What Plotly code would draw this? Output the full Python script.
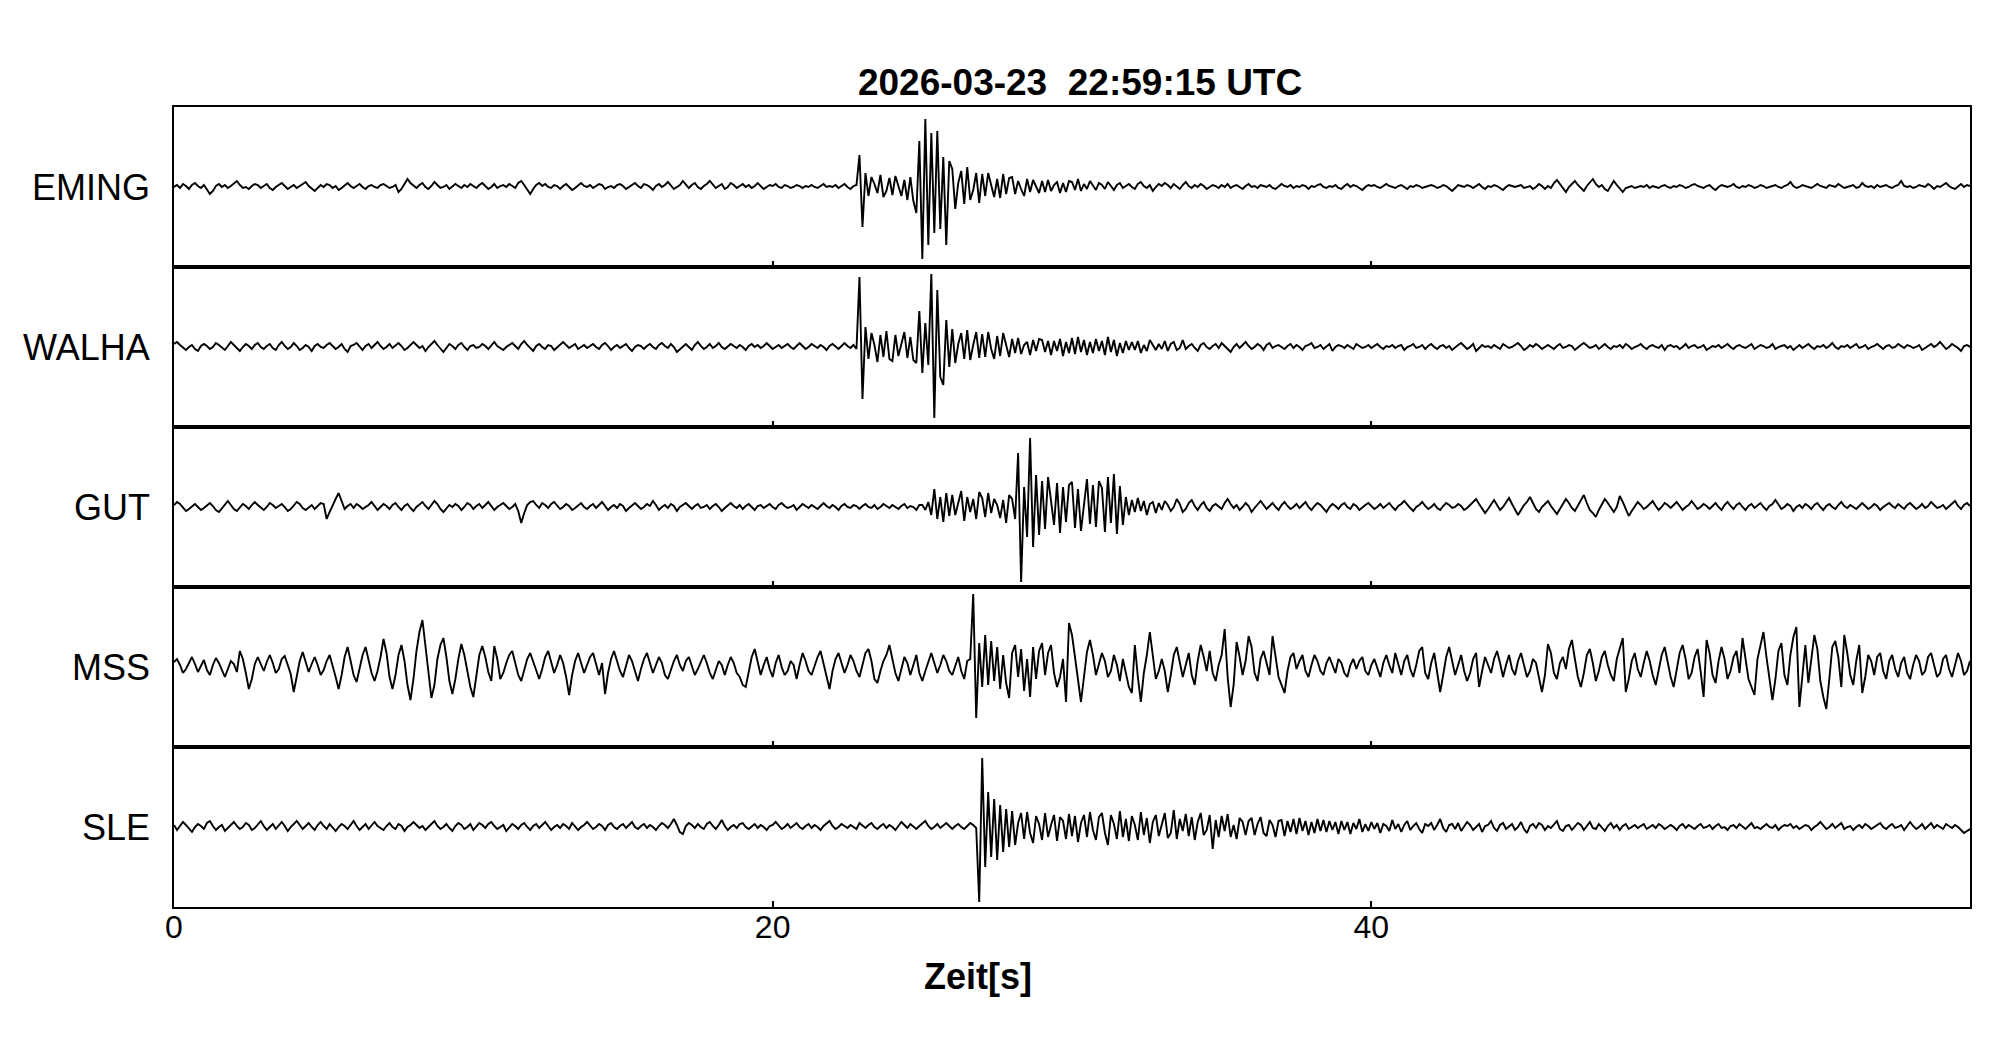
"""
Seismogram section: five stations, vertical component, 60 s window.
"""

import numpy as np
import plotly.graph_objects as go
from plotly.subplots import make_subplots

TITLE = "2026-03-23\u00a0\u00a022:59:15 UTC"
STATIONS = ["EMING", "WALHA", "GUT", "MSS", "SLE"]
X_TICKS = [0, 20, 40]
DT = 0.1  # sample spacing [s]

# Amplitudes (arbitrary units, one row per second)
EMING = [
    0, 2, -1, 3, 1, -2, 2, 4, 1, -1,
    2, -3, -7, -4, 1, 3, 0, 2, -1, 1,
    4, 6, 2, -1, 0, -2, 1, 3, 2, -1,
    1, 3, -1, -3, 0, 2, 4, 1, -2, 0,
    2, -1, 1, 3, 5, 1, -2, -4, -1, 2,
    0, 3, 2, -1, 1, -3, -1, 2, 4, 1,
    -1, 1, 3, 0, -2, 1, 2, 0, -1, 2,
    3, 1, -1, 0, 2, -5, -2, 3, 8, 4,
    1, -1, 2, 4, 0, -2, 1, 5, 2, -1,
    0, 2, -2, 1, 3, 1, -1, 2, 0, 3,
    1, -1, 2, 4, 1, -2, 0, 3, -1, 1,
    2, 0, 3, 1, -1, 4, 6, 2, -3, -7,
    -2, 2, 4, 1, 3, 0, -1, 2, 1, -2,
    1, 3, 0, -3, -1, 2, 4, 1, 0, 2,
    -1, 1, 3, 2, -2, 0, 1, -1, 2, 3,
    1, -2, 0, 2, 4, 1, -1, 3, 2, 0,
    -3, 1, 3, 0, 2, 5, 1, -2, 0, 2,
    6, 3, -1, 2, 4, 0, -2, 1, 3, 6,
    2, -1, 1, 3, -2, 0, 4, 2, -1, 1,
    3, 0, 2, -1, 1, 4, 1, -2, 0, 2,
    1, 3, 0, -1, 2, 1, -1, 0, 2, 1,
    -1, 1, 0, 2, 0, -1, 1, 3, 0, 1,
    0, 2, -1, 1, 3, 0, -2, 1, 2, 32,
    -40, 14, -9, 10, 3, -6, 12, -10, -4, 9,
    -8, 11, 2, -9, 7, -13, 10, -14, -26, 46,
    -72, 68, -58, 54, -46, 56, -42, 30, -58, 26,
    18, -22, 4, 16, -17, 20, -13, -3, 14, -16,
    13, -9, 14, 2, -10, 8, -11, 13, -7, 9,
    10, -7, 6, -2, -9, 8, -5, 7, 1, -6,
    6, -5, 7, -4, 2, 5, -6, 4, -5, 6,
    5, -3, 8, -4, 3, -2, 6, 1, -3, 4,
    2, -2, 5, 1, -3, 2, 4, -1, 1, 3,
    0, -2, 3, 5, 1, -1, 2, -4, 0, 3,
    1, 4, 2, -1, 3, 0, -2, 2, 5, 1,
    -1, 2, 0, 3, 1, -2, 0, 2, 1, -1,
    2, 0, 3, -1, 1, 2, 0, -2, 1, 3,
    0, 1, -1, 2, 1, 0, 2, -1, -2, 1,
    3, 1, 0, 2, -1, 1, 0, 2, 1, -2,
    1, 0, 2, 3, 0, -1, 1, 0, 2, -1,
    -2, 1, 3, 0, 2, 1, -1, -3, 0, 2,
    1, 2, 0, -1, 1, 3, 1, 0, -1, 1,
    2, 0, -2, 1, 0, 2, 1, -1, 0, 1,
    2, 1, -1, 0, 2, 1, -2, -4, -1, 2,
    1, 0, 2, 1, -1, 1, 3, 0, -2, 1,
    0, 2, 1, -1, -3, 0, 2, 1, 0, 1,
    2, -1, 0, 1, -2, 0, 3, 1, -2, 1,
    -1, 4, 7, 3, -2, -5, 0, 3, 6, 2,
    -1, -4, 1, 4, 8, 3, 0, 2, -2, -4,
    1, 6, 2, -2, -5, -1, 0, 1, -1, 0,
    1, 0, 2, -1, 1, 0, -1, 1, 2, 0,
    -1, 1, 0, 2, 1, -1, 0, 2, 3, 1,
    0, -1, 1, 2, -1, -3, 0, 2, 1, 0,
    1, 3, 0, -1, 1, 0, 2, 1, -1, 0,
    2, 1, -1, 0, 1, 2, 0, -1, 1, 2,
    5, 1, -1, 0, 2, 1, 0, -1, 1, 3,
    1, 0, -1, 2, 1, 0, 3, 1, -1, 0,
    1, 2, -1, 0, 4, 1, 0, 1, -1, 2,
    0, 1, 2, 0, -1, 1, 2, 6, 1, 0,
    1, -1, 0, 2, 1, 0, 3, 1, -2, 1,
    0, 2, 4, 1, -1, -2, 1, 3, 0, 2,
    1,
]

WALHA = [
    3, 5, 2, -1, -3, 0, 2, -2, -4, 1,
    3, 1, -2, 0, 4, 2, -1, -3, 1, 5,
    2, -1, -4, 0, 3, 1, -2, 2, 4, 0,
    -2, 1, 3, -1, -3, 2, 5, 1, -2, 0,
    4, 1, -3, -1, 2, 0, -4, 1, 3, 0,
    -1, 2, 4, 1, -2, 0, 3, -2, -5, 1,
    2, 4, 0, -3, 1, 3, -1, 2, 5, 1,
    -2, 0, 3, -1, 2, 4, 1, -3, -1, 2,
    5, 2, -1, 1, -4, 0, 3, 6, 2, -2,
    -5, -1, 3, 1, -2, 2, 4, 0, -3, 1,
    2, -1, 0, 3, 1, -2, 2, 5, 1, -1,
    -3, 0, 2, 4, 1, -2, 3, 6, 2, -1,
    -4, 1, 3, 0, -2, 2, 1, -3, 0, 3,
    5, 2, -1, 1, 3, -2, 0, 2, -1, 1,
    3, 0, -2, 2, 4, 1, -3, 0, 2, -1,
    1, 3, -1, -4, 0, 2, 1, -2, 1, 3,
    0, -2, 2, 4, 1, -1, 3, 0, -5, -2,
    1, 3, 0, -3, 2, 5, 1, -2, 0, 3,
    -1, 1, 4, 0, -2, 1, 3, 1, -1, 2,
    0, -3, 1, 3, 0, 2, -1, 1, 4, 1,
    -2, 0, 2, -1, 1, 3, 0, -2, 1, 4,
    1, -2, 0, 3, 1, -1, 2, 0, -3, 1,
    3, 0, -2, 1, 4, 1, -1, 2, -2, 70,
    -52, 20, -12, 14, 2, -15, 12, -10, 16, -12,
    -14, 12, -9, 3, 15, -11, 10, -13, -16, 36,
    -26, 24, -18, 73, -71, 57, -30, -38, 27, -20,
    18, -16, 3, 14, -12, 17, -13, 2, 15, -11,
    13, -10, 15, -2, -12, 11, -9, 14, 1, -10,
    8, -6, 9, -7, 2, 5, -8, 7, -4, 8,
    7, -5, 6, -8, 6, -4, 8, -9, 5, -6,
    9, -7, 10, -5, 7, -8, 5, -6, 8, -4,
    6, -8, 10, -5, 7, -9, 4, -6, 6, -3,
    5, -3, 6, -6, 2, -4, 7, 2, -3, 3,
    -2, 6, -4, 3, 5, -3, -1, 7, -2, 1,
    3, -1, -4, 2, 4, 0, -2, 1, 3, -1,
    4, 1, -2, -5, 0, 3, -1, 2, 5, 1,
    -2, 0, 3, 1, -3, 2, 4, -1, 1, 2,
    0, -2, 1, 3, -1, 2, 0, -3, 1, 2,
    4, -1, 0, 2, -2, 1, 3, -4, 0, 2,
    1, -1, 2, 0, -2, 3, 1, -1, 0, 2,
    -1, 1, 3, 0, -2, 1, 0, 2, -1, 1,
    2, -3, 0, 1, 3, -1, 0, 2, -2, 1,
    3, 0, -2, 1, 2, -1, 1, -3, 0, 2,
    4, 1, -2, 0, 3, -4, -1, 2, 0, 1,
    -1, 2, 0, -2, 3, 1, -1, 0, 2, 4,
    1, -3, -1, 2, 0, 3, 1, -2, 0, 2,
    0, -2, 1, 3, -1, 0, 2, 1, -3, 0,
    2, 4, 1, -1, 0, 2, -2, 1, 3, 0,
    -2, 1, 0, 2, -1, 3, 1, -2, 0, 1,
    3, 0, -2, 1, 2, 0, -1, 2, -3, 1,
    2, 0, 1, -2, 0, 3, -1, 1, 2, -1,
    0, 2, -3, -1, 1, 0, 2, -1, 1, 3,
    0, -2, 1, 2, 0, -1, 1, 3, -2, 0,
    2, 1, -1, 0, 3, -2, 0, 1, 2, -1,
    1, -3, 0, 2, -1, 1, 3, 0, -2, 1,
    0, 2, -1, 1, 4, 0, -2, 1, 0, 2,
    -1, 1, 3, -1, 0, 2, -2, 0, 1, 3,
    0, -2, 1, 2, -1, 0, 3, 1, -1, 2,
    1, -1, 0, 2, -3, -1, 1, 3, 0, 2,
    5, 1, -2, 0, 3, 1, -1, -4, 1, 2,
    0,
]

GUT = [
    2, 5, 3, -1, -4, -2, 1, 3, 0, -3,
    -1, 2, 4, 1, -3, -5, -1, 3, 6, 2,
    -2, -4, 0, 3, 1, -2, 2, 5, 2, -1,
    -3, 0, 4, 2, -1, 1, 3, 0, -4, -2,
    1, 5, 3, -1, -3, 0, 2, -2, 1, 4,
    3, -12, -5, 2, 8, 14, 6, -2, 1, 3,
    -1, 3, 1, -2, 0, 2, 5, 1, -3, 0,
    3, 1, -2, 2, 4, 0, -3, 1, 3, -1,
    -4, 0, 3, 5, 1, -2, 2, 6, 3, -2,
    -5, -1, 2, 0, 3, 1, -3, 0, 4, 2,
    -2, 1, 3, -1, 2, 5, 1, -3, 0, 2,
    4, 1, -2, 0, 3, -4, -16, -6, 2, 5,
    6, 2, -1, 4, 2, -1, 3, 5, 1, -2,
    0, 3, 1, -3, -1, 2, 4, 0, -2, 1,
    3, -1, 2, 5, 1, -3, 0, 2, -1, 3,
    1, -4, -1, 2, 4, 1, -2, 0, 3, 1,
    6, 2, -3, 0, 2, -1, 3, 1, -4, 0,
    2, 4, 1, -2, 1, 3, -1, 0, 2, -2,
    1, 3, 0, -4, -1, 2, 4, 1, -1, 2,
    -2, 1, 3, 0, -3, 1, 2, -1, 1, 3,
    0, -2, 2, 4, 1, -1, 0, 2, -3, 0,
    3, 1, -1, 2, 0, -2, 1, 4, 1, -1,
    2, 0, -3, 1, 3, 0, -1, 2, 1, -2,
    1, 3, 0, -1, 2, -2, 0, 3, 1, -1,
    2, 0, -2, 1, 3, -1, 1, 0, -3, 2,
    2, -3, 5, -8, 18, -12, 10, -15, 14, -9,
    12, -8, 3, 16, -14, 10, -5, 8, -12, 15,
    9, -10, 14, -6, 8, 2, -11, 7, -16, 12,
    8, -12, 54, -75, 20, -30, 69, -40, 32, -28,
    26, -22, 30, 4, -18, 24, -26, 20, -15, 22,
    25, -21, 18, -24, 3, 28, -17, 22, -20, 26,
    19, -25, 30, -16, 33, -27, 21, -18, 10, -8,
    7, -5, 9, -4, 6, -8, 3, 5, -6, 4,
    -3, 6, 2, -4, 0, 8, 3, -5, -2, 4,
    7, 1, -3, 2, 5, -1, -4, 1, 3, 0,
    -2, 4, 8, 3, -1, 2, -3, 0, 4, 1,
    -5, -1, 3, 6, 2, -2, 1, 4, 0, -3,
    2, 5, 1, -2, 0, 3, -1, 2, 5, 0,
    -3, 1, 4, 2, -1, -5, 0, 3, 1, -2,
    2, 4, 0, -2, 3, 1, -3, 0, 2, 4,
    1, -2, 0, 3, -1, 2, 4, 0, -3, 1,
    3, 6, 2, -1, -4, 0, 2, 5, 1, -2,
    0, 3, -1, -3, 1, 4, 2, -1, 0, 3,
    1, -3, -1, 2, 5, 8, 3, -2, -6, -2,
    3, 7, 2, -3, 0, 4, 9, 3, -2, -8,
    -3, 2, 5, 10, 4, -2, -5, 0, 3, 6,
    1, -3, -7, -2, 3, 8, 4, -1, -4, 1,
    6, 12, 4, -3, -6, -10, -3, 2, 8, 4,
    -1, -5, 0, 11, 5, -2, -9, -4, 1, 5,
    2, -2, 0, 3, 6, 1, -3, 0, 4, 2,
    -1, 2, 5, 1, -3, 0, 2, 6, 2, -2,
    0, 3, 1, -2, 1, 4, 0, -3, 2, 5,
    1, -2, 2, 4, 0, -3, 1, 3, -1, 2,
    4, 0, -3, 1, 3, 7, 2, -2, 0, 3,
    1, -4, 0, 2, -1, 3, 1, -2, 2, 4,
    0, -3, 1, 3, 0, -2, 2, 5, 1, -1,
    2, 0, -2, 1, 4, 1, -2, 0, 3, 1,
    -3, 0, 2, 4, 1, -1, 3, 0, -2, 2,
    4, 1, -2, 0, 3, -1, 1, 5, 2, -1,
    0, 2, -2, 1, 3, 6, 1, -2, 2, 4,
    1,
]

MSS = [
    5, 8, 2, -6, -2, 4, 10, 3, -5, 1,
    7, -3, -8, 2, 9, 4, -4, -10, -2, 6,
    3, -5, 16, 8, -6, -22, -12, 3, 10, 2,
    -4, 5, 12, 4, -6, -2, 8, 11, 1, -7,
    -25, -8, 6, 15, 4, -5, 3, 10, 2, -8,
    -3, 6, 12, 2, -10, -22, -8, 10, 20, 6,
    -8, -15, -2, 12, 20, 8, -6, -14, -4, 10,
    28, 14, -10, -22, -8, 12, 22, 6, -18, -33,
    -12, 16, 35, 47, 20, -10, -31, -18, 8, 22,
    29, 10, -14, -27, -12, 8, 23, 12, -6, -20,
    -30, -8, 12, 21, 10, -5, -14, 21, 8, -12,
    -6, 4, 12, 16, 4, -8, -14, -4, 8, 14,
    6, -4, -12, -2, 10, 16, 6, -6, 2, 12,
    4, -10, -28, -8, 6, 14, 4, -6, 2, 10,
    14, 2, -8, 4, -27, -6, 8, 16, 6, -4,
    -10, 2, 12, 6, -4, -14, -2, 8, 14, 4,
    -6, 2, 10, 4, -8, -12, -2, 6, 12, 2,
    -4, 6, 10, 0, -8, -2, 6, 12, 4, -6,
    -12, -2, 6, 2, -8, 2, 10, 4, -6, -10,
    -18, -20, -4, 10, 18, 6, -8, 2, 10, -2,
    -10, 4, 12, 0, -8, -4, 6, 2, -12, 2,
    14, 6, -4, -8, 2, 10, 16, 4, -8, -22,
    -4, 8, 14, 4, -6, 2, 12, 6, -4, -10,
    2, 14, 18, 6, -12, -16, -4, 6, 12, 22,
    8, -6, -14, -2, 10, 4, -8, 2, 12, -6,
    -14, -4, 6, 14, 4, -6, 2, 12, 6, -4,
    -8, 2, 10, -4, -12, 6, 8, 73, -51, 24,
    -20, 32, -18, 26, -14, 20, -22, 12, -16, -31,
    14, 22, -10, 18, -24, 8, -30, 20, -12, 16,
    24, -8, 14, 22, -6, -20, -10, 8, -35, 44,
    32, 10, -12, -35, -10, 15, 27, 12, -8, 2,
    14, 6, -10, -4, 12, 2, -14, 8, -6, -20,
    -26, 22, -10, -35, -6, 12, 35, 10, -12, -4,
    8, -4, -25, -8, 12, 20, 6, -10, 2, 14,
    -8, -18, 6, 22, 10, -4, 16, -6, -14, 2,
    12, 38, -10, -40, -18, 25, 10, -8, 6, 31,
    20, -6, -14, 8, 16, 4, -8, 31, 12, -10,
    -18, -26, -4, 10, 14, -2, 6, 12, -4, -10,
    2, 12, 6, -4, -8, 4, 10, 2, -6, 8,
    4, -6, -10, 2, 8, -2, 6, 10, -4, -8,
    2, 8, -2, -10, 4, 12, 2, -6, 14, 4,
    -8, 6, 12, -2, -10, 2, 16, 20, -6, -12,
    4, 14, -6, -25, -8, 10, 20, 6, -8, 2,
    12, -4, -14, -6, 8, 14, -20, -4, 10, 2,
    -6, 8, 16, 4, -10, 2, 12, -2, -8, 6,
    14, 2, -10, -4, 8, 4, -12, -25, -8, 23,
    14, -6, -12, 4, 10, -2, 18, 27, 8, -10,
    -20, -6, 12, 18, 4, -14, -4, 10, 16, 2,
    -8, -14, 8, 18, 29, -25, -12, 6, 14, -2,
    -10, 4, 16, 6, -8, -18, -4, 12, 20, 6,
    -10, -20, -4, 14, 22, 8, -12, -6, 10, 18,
    -4, -30, 27, 14, -8, -16, 6, 20, 8, -12,
    -4, 10, 16, -6, 29, 10, -12, -20, -28, 8,
    20, 35, 10, -14, -33, -12, 16, 24, -8, -18,
    12, 30, 40, -40, -10, 22, -16, 8, 32, 18,
    -14, -30, -42, -12, 20, 26, 10, -20, 32, 14,
    -8, -18, 6, 22, -26, -10, 12, 6, -8, 10,
    14, -4, -12, 6, 12, -2, -10, 4, 10, -6,
    -12, 2, 12, 6, -8, -4, 10, 14, 2, -10,
    -6, 8, 12, -2, -10, 2, 14, 6, -8, -4,
    6,
]

SLE = [
    2, -3, 1, 5, 2, -2, -5, 0, 3, 1,
    -2, 4, 6, 1, -3, 0, 2, -4, -1, 3,
    5, 1, -2, 0, 4, 2, -3, -1, 2, 6,
    1, -3, 0, 3, -2, 2, 5, 1, -4, 0,
    3, 6, 2, -2, 1, 4, 0, -3, 2, 5,
    1, -2, 3, -1, -4, 0, 3, 1, -2, 2,
    6, 1, -3, 0, 3, -2, 2, 5, 1, -1,
    -3, 1, 4, 0, -2, 3, 1, -4, 0, 2,
    5, 2, -1, 1, -3, 0, 3, 6, 1, -2,
    0, 3, -1, -4, 1, 4, 2, -2, 0, 3,
    -3, 1, 4, 2, -1, 3, 5, 1, -2, 0,
    2, -4, 0, 3, 1, -2, 2, 4, 0, -3,
    1, 3, -1, 2, 5, 1, -3, 0, 2, -1,
    3, 1, -2, 4, 1, -3, 0, 2, 5, 1,
    -2, 0, 3, 1, -3, 2, 4, 0, -2, 1,
    3, -1, 2, 5, 0, -2, 1, 3, -1, 2,
    0, -3, 1, 4, 2, -1, 3, 8, 2, -5,
    -7, 1, 4, 2, -1, 3, 0, -2, 3, 5,
    1, -2, 2, 7, 1, -3, 0, 2, -1, 3,
    4, 0, -2, 1, 3, -1, 2, 0, -3, 1,
    2, 5, 1, -2, 0, 3, -1, 2, 4, 0,
    -2, 1, 3, -1, 2, 0, -3, 1, 4, 6,
    1, -2, 0, 3, 1, -1, 2, 0, -2, 4,
    1, -1, 2, 4, 0, -2, 1, 3, -1, 2,
    0, -3, 1, 5, 2, -1, 3, 0, -2, 1,
    4, 6, 1, -2, 0, 3, -1, 2, 4, 1,
    -2, 1, 3, 0, -2, 1, 4, 2, -1, -75,
    69, -40, 35, -30, 28, -33, 22, -25, 18, -20,
    16, -18, 4, 14, -12, 15, -6, -16, 11, 3,
    -13, 14, -10, 2, 12, -14, 10, 6, -12, 13,
    -9, 11, -15, 4, 12, -10, 15, -3, -13, 10,
    14, -6, -18, 12, 3, -12, 16, -10, 8, -14,
    11, 2, -13, 15, -8, 9, -16, 5, 12, -9,
    3, 14, -11, -6, 17, -12, 8, -4, 13, -9,
    10, -13, 5, 14, -8, -3, 12, -22, 7, -10,
    11, -4, 13, -10, 2, -12, 9, 5, -8, 6,
    9, -8, 3, 10, -6, -9, 7, 2, -10, 6,
    7, -9, 6, -5, 8, -7, 9, -4, 6, -8,
    5, -6, 8, -4, 7, -5, 6, -3, 5, -7,
    6, -3, 5, -7, 4, -2, 8, -5, 3, -4,
    5, -2, 4, -6, 3, 1, -4, 7, -2, 3,
    -5, 2, 6, -3, 1, 4, -2, -6, 3, 1,
    4, -3, 2, 8, -1, -5, 2, 3, -2, 4,
    -4, 1, 5, 2, -3, 0, 3, -5, 1, 2,
    6, -1, -4, 2, 4, -2, 1, 3, -3, 0,
    5, -2, -6, 1, 3, -1, 4, 2, -3, 1,
    -1, 3, 6, -2, -4, 1, 2, -3, 0, 4,
    2, -3, 1, 5, -1, -2, 3, 0, -4, 1,
    4, -1, 2, -3, 1, 3, -2, 0, 2, -1,
    1, 3, -2, 0, 2, -1, 3, 1, -2, 0,
    2, 0, -3, 1, 3, -1, 2, 0, -2, 1,
    3, -1, 0, 2, -2, 1, 3, -1, 0, -3,
    1, 2, -1, 3, 0, -2, 1, 4, -1, 0,
    -2, 1, 3, 0, -1, 2, -3, 0, 2, 1,
    3, -1, 1, -2, 0, 2, 1, -3, 0, 2,
    5, 1, -2, 0, 3, -1, 2, 4, -2, 0,
    1, -3, 0, 2, -1, 3, 1, -2, 0, 2,
    4, 0, -2, 1, 3, -1, 0, 2, -3, 1,
    5, 1, -2, 0, 3, -2, 1, 4, -1, 2,
    0, -2, 3, 1, -1, 2, 0, -3, -6, -4,
    -2,
]

TRACES = [EMING, WALHA, GUT, MSS, SLE]

FONT = "Liberation Sans, Arial, Helvetica, sans-serif"

# page has an 8 px body margin, so the figure is sized to fit beside it
W, H = 1997, 1033
L, R, T, B = 166, 35, 99, 134

fig = make_subplots(rows=len(STATIONS), cols=1, shared_xaxes=True, vertical_spacing=0)

for i, (name, vals) in enumerate(zip(STATIONS, TRACES), start=1):
    t = np.arange(len(vals)) * DT
    fig.add_trace(go.Scatter(
        x=t, y=vals,
        mode='lines',
        line=dict(color='black', width=1.9),
        showlegend=False,
        hoverinfo='skip',
    ), row=i, col=1)

    fig.update_yaxes(
        range=[-80, 80], showticklabels=False, ticks='', showgrid=False,
        zeroline=False, showline=True, linecolor='black', linewidth=2,
        mirror=True, row=i, col=1,
    )
    fig.update_xaxes(
        range=[0, 60], tickvals=X_TICKS, ticks='inside', ticklen=6,
        tickwidth=1.5, tickcolor='black', showgrid=False, zeroline=False,
        showline=True, linecolor='black', linewidth=2, mirror=True,
        showticklabels=(i == len(STATIONS)), row=i, col=1,
    )

    # station name to the left of each panel
    yref = 'y domain' if i == 1 else f'y{i} domain'
    fig.add_annotation(
        text=name, xref='paper', yref=yref, x=-0.012, y=0.5,
        xanchor='right', yanchor='middle', showarrow=False,
        font=dict(size=36, color='black', family=FONT),
    )

fig.update_xaxes(
    tickfont=dict(size=32, color='black', family=FONT),
    ticklabelstandoff=-9,
    row=len(STATIONS), col=1,
)

# axis label sits left of centre in the original
plot_w = W - L - R
plot_h = H - T - B
fig.add_annotation(
    text='<b>Zeit[s]</b>', xref='paper', yref='paper',
    x=(970 - L) / plot_w, y=-(968 - (T + plot_h)) / plot_h,
    xanchor='center', yanchor='middle', showarrow=False,
    font=dict(size=36, color='black', family=FONT),
)

fig.update_layout(
    title=dict(
        text=f'<b>{TITLE}</b>', x=0.5045, xref='paper', xanchor='center',
        y=1 - 74 / H, yanchor='middle',
        font=dict(size=37, color='black', family=FONT),
    ),
    width=W, height=H,
    margin=dict(l=L, r=R, t=T, b=B),
    plot_bgcolor='white',
    paper_bgcolor='white',
    font=dict(family=FONT, color='black'),
)

fig.write_html("out.html")
